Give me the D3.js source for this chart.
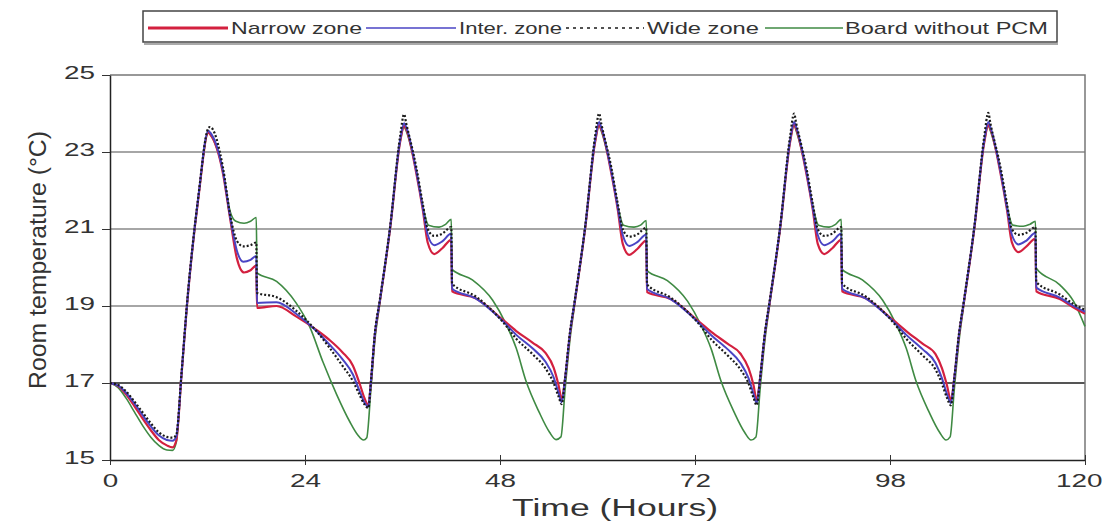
<!DOCTYPE html>
<html lang="en">
  <head>
    <meta charset="utf-8"/>
    <script src="https://d3js.org/d3.v7.min.js"></script>
    <title>Room temperature</title>
  </head>
  <body>
    <div id="chart_div">
      <svg id="chart"></svg>
    </div>
  </body>
</html>

<style>
  body { margin: 0; background: #fff; }
  text { font-family: "Liberation Sans", Arial, sans-serif; fill: #333; }
</style>

<script>
  const width = 1103;
  const height = 525;
  const margin = {top: 75, right: 18, bottom: 65, left: 110};

  // [hour, °C]
  const narrowZone = [
    [0,17.0],[1,16.92],[2,16.7],[3,16.4],[4,16.08],[5,15.78],[6,15.52],[7,15.38],[7.7,15.33],[8.15,15.5],
    [8.8,17.2],[9.45,18.95],[10.9,21.85],[12.1,23.5],[12.35,23.45],
    [13.9,22.45],[14.8,21.25],[15.6,20.25],[16.5,19.87],[17.3,19.93],[18.0,20.05],
    [18.1,18.95],[20.5,19.0],[22.9,18.73],[25.4,18.38],[27.0,18.12],[28.6,17.8],[29.9,17.45],[30.7,17.0],[31.3,16.62],[31.8,16.42],
    [32.1,17.0],[32.6,18.25],[33.2,19.1],[34.5,21.05],[35.7,23.25],[36.2,23.68],[36.45,23.6],
    [37.7,22.45],[38.5,21.5],[39.1,20.65],[39.9,20.35],[40.9,20.5],[42.0,20.72],
    [42.1,19.38],[45.0,19.2],[48.3,18.65],[50.0,18.35],[52.0,18.05],[53.6,17.78],[54.6,17.4],[55.2,16.95],[55.6,16.58],
    [56.0,17.1],[56.6,18.25],[57.2,19.1],[58.5,21.05],[59.7,23.25],[60.2,23.7],[60.45,23.6],
    [61.7,22.45],[62.5,21.5],[63.1,20.62],[63.9,20.33],[64.9,20.48],[66.0,20.7],
    [66.1,19.36],[69.0,19.18],[72.3,18.63],[74.0,18.33],[76.0,18.02],[77.6,17.76],[78.6,17.38],[79.2,16.95],[79.6,16.55],
    [80.0,17.1],[80.6,18.25],[81.2,19.1],[82.5,21.05],[83.7,23.25],[84.2,23.72],[84.45,23.6],
    [85.7,22.45],[86.5,21.5],[87.1,20.62],[87.9,20.35],[88.9,20.5],[90.0,20.72],
    [90.1,19.38],[93.0,19.2],[96.3,18.65],[98.0,18.35],[100.0,18.02],[101.6,17.75],[102.4,17.38],[103.0,16.95],[103.5,16.55],
    [103.9,17.1],[104.5,18.25],[105.1,19.1],[106.4,21.05],[107.6,23.25],[108.1,23.7],[108.35,23.6],
    [109.6,22.45],[110.4,21.5],[111.0,20.65],[111.8,20.4],[112.8,20.55],[113.9,20.75],
    [114.0,19.38],[116.9,19.18],[118.6,18.96],[120,18.8]
  ];

  const interZone = [
    [0,17.0],[1,16.93],[2,16.74],[3,16.47],[4,16.17],[5,15.88],[6,15.64],[7,15.52],[7.7,15.5],[8.15,15.6],
    [8.8,17.22],[9.45,18.97],[10.9,21.88],[12.1,23.55],[12.35,23.5],
    [13.9,22.5],[14.8,21.3],[15.6,20.45],[16.4,20.15],[17.3,20.2],[18.0,20.3],
    [18.1,19.08],[20.5,19.1],[22.9,18.8],[25.4,18.35],[27.0,18.0],[28.6,17.62],[29.9,17.22],[30.7,16.8],[31.3,16.5],[31.8,16.38],
    [32.1,17.0],[32.6,18.27],[33.2,19.12],[34.5,21.08],[35.7,23.3],[36.2,23.75],[36.45,23.65],
    [37.7,22.5],[38.5,21.55],[39.1,20.85],[39.9,20.58],[40.9,20.68],[42.0,20.88],
    [42.1,19.45],[45.0,19.2],[48.3,18.62],[50.0,18.25],[52.0,17.9],[53.6,17.55],[54.6,17.15],[55.2,16.75],[55.6,16.5],
    [56.0,17.1],[56.6,18.27],[57.2,19.12],[58.5,21.08],[59.7,23.3],[60.2,23.78],[60.45,23.65],
    [61.7,22.5],[62.5,21.55],[63.1,20.85],[63.9,20.56],[64.9,20.66],[66.0,20.86],
    [66.1,19.44],[69.0,19.18],[72.3,18.6],[74.0,18.24],[76.0,17.88],[77.6,17.52],[78.6,17.12],[79.2,16.72],[79.6,16.48],
    [80.0,17.1],[80.6,18.27],[81.2,19.12],[82.5,21.08],[83.7,23.3],[84.2,23.78],[84.45,23.65],
    [85.7,22.5],[86.5,21.55],[87.1,20.85],[87.9,20.58],[88.9,20.68],[90.0,20.88],
    [90.1,19.45],[93.0,19.2],[96.3,18.62],[98.0,18.25],[100.0,17.88],[101.6,17.52],[102.4,17.12],[103.0,16.72],[103.5,16.48],
    [103.9,17.1],[104.5,18.27],[105.1,19.12],[106.4,21.08],[107.6,23.3],[108.1,23.78],[108.35,23.65],
    [109.6,22.5],[110.4,21.55],[111.0,20.85],[111.8,20.6],[112.8,20.7],[113.9,20.9],
    [114.0,19.48],[116.9,19.22],[118.6,19.0],[120,18.85]
  ];

  const wideZone = [
    [0,17.0],[1,16.95],[2,16.78],[3,16.52],[4,16.24],[5,15.96],[6,15.72],[7,15.6],[7.7,15.58],[8.15,15.65],
    [8.8,17.25],[9.45,19.0],[10.9,21.9],[12.1,23.62],[12.3,23.65],
    [13.9,22.6],[14.8,21.35],[15.6,20.7],[16.4,20.55],[17.3,20.58],[18.0,20.65],
    [18.1,19.34],[20.5,19.23],[22.9,18.88],[25.4,18.35],[27.0,17.92],[28.6,17.45],[29.9,17.05],[30.7,16.7],[31.3,16.45],[31.8,16.35],
    [32.1,17.0],[32.6,18.3],[33.2,19.15],[34.5,21.1],[35.7,23.4],[36.2,23.98],[36.45,23.75],
    [37.7,22.6],[38.5,21.65],[39.1,21.0],[39.9,20.82],[40.9,20.88],[42.0,21.05],
    [42.1,19.58],[45.0,19.25],[48.3,18.6],[50.0,18.15],[52.0,17.75],[53.6,17.38],[54.6,17.0],[55.2,16.65],[55.6,16.45],
    [56.0,17.1],[56.6,18.3],[57.2,19.15],[58.5,21.1],[59.7,23.4],[60.2,24.0],[60.45,23.75],
    [61.7,22.6],[62.5,21.65],[63.1,21.0],[63.9,20.8],[64.9,20.86],[66.0,21.03],
    [66.1,19.56],[69.0,19.22],[72.3,18.58],[74.0,18.13],[76.0,17.72],[77.6,17.35],[78.6,16.98],[79.2,16.62],[79.6,16.42],
    [80.0,17.1],[80.6,18.3],[81.2,19.15],[82.5,21.1],[83.7,23.4],[84.2,24.0],[84.45,23.75],
    [85.7,22.6],[86.5,21.65],[87.1,21.0],[87.9,20.82],[88.9,20.88],[90.0,21.05],
    [90.1,19.58],[93.0,19.25],[96.3,18.6],[98.0,18.15],[100.0,17.72],[101.6,17.35],[102.4,16.98],[103.0,16.62],[103.5,16.42],
    [103.9,17.1],[104.5,18.3],[105.1,19.15],[106.4,21.1],[107.6,23.4],[108.1,24.02],[108.35,23.75],
    [109.6,22.6],[110.4,21.65],[111.0,21.0],[111.8,20.85],[112.8,20.9],[113.9,21.05],
    [114.0,19.62],[116.9,19.3],[118.6,19.05],[120,18.9]
  ];

  const boardNoPCM = [
    [0,17.0],[1,16.88],[2,16.6],[3,16.25],[4,15.9],[5,15.6],[6,15.38],[7,15.26],[7.7,15.25],[8.15,15.45],
    [8.8,17.2],[9.45,18.95],[10.9,21.85],[12.1,23.5],[12.35,23.45],
    [13.9,22.5],[14.8,21.45],[15.5,21.2],[16.5,21.15],[17.3,21.2],[18.0,21.3],
    [18.1,19.86],[20.5,19.64],[22.9,19.08],[24.6,18.45],[26.2,17.55],[27.9,16.7],[29.5,16.0],[30.5,15.65],[31.2,15.52],[31.6,15.58],
    [32.1,16.8],[32.6,18.1],[33.2,19.05],[34.5,21.05],[35.7,23.25],[36.2,23.65],[36.45,23.55],
    [37.7,22.5],[38.5,21.6],[39.2,21.1],[40.5,21.05],[41.3,21.12],[42.0,21.25],
    [42.1,19.95],[44.6,19.68],[47.1,19.15],[48.7,18.55],[50.0,17.9],[51.2,17.05],[52.8,16.25],[54.1,15.72],[54.9,15.53],[55.5,15.6],
    [56.0,16.8],[56.6,18.1],[57.2,19.05],[58.5,21.05],[59.7,23.25],[60.2,23.68],[60.45,23.55],
    [61.7,22.5],[62.5,21.6],[63.2,21.1],[64.5,21.05],[65.3,21.1],[66.0,21.22],
    [66.1,19.92],[68.6,19.66],[71.1,19.12],[72.7,18.52],[74.0,17.88],[75.2,17.05],[76.8,16.25],[78.1,15.72],[78.9,15.52],[79.5,15.6],
    [80.0,16.8],[80.6,18.1],[81.2,19.05],[82.5,21.05],[83.7,23.25],[84.2,23.7],[84.45,23.55],
    [85.7,22.5],[86.5,21.6],[87.2,21.1],[88.5,21.05],[89.3,21.12],[90.0,21.25],
    [90.1,19.95],[92.6,19.68],[95.1,19.15],[96.7,18.55],[98.0,17.9],[99.2,17.05],[100.8,16.25],[102.1,15.72],[102.9,15.52],[103.4,15.6],
    [103.9,16.8],[104.5,18.1],[105.1,19.05],[106.4,21.05],[107.6,23.25],[108.1,23.68],[108.35,23.55],
    [109.6,22.5],[110.4,21.6],[111.1,21.1],[112.4,21.07],[113.2,21.12],[113.9,21.2],
    [114.0,19.98],[116.9,19.55],[118.6,19.12],[120,18.47]
  ];

  const xTicks = [0, 24, 48, 72, 96, 120];
  const xTickLabels = ["0", "24", "48", "72", "98", "120"];
  const yTicks = [15, 17, 19, 21, 23, 25];
  const gridValues = [17, 19, 21, 23];

  const series = [
    {name: "Board without PCM", data: boardNoPCM, color: "#3f8a43", width: 1.6, dash: null},
    {name: "Narrow zone", data: narrowZone, color: "#d3203f", width: 2.2, dash: null},
    {name: "Inter. zone", data: interZone, color: "#4a45c4", width: 2, dash: null},
    {name: "Wide zone", data: wideZone, color: "#1a1a1a", width: 2.2, dash: "2,2"}
  ];

  const svg = d3.select("#chart")
    .attr("width", width)
    .attr("height", height);

  const xScale = d3.scaleLinear()
    .domain([0, 120])
    .range([margin.left, width - margin.right]);

  const yScale = d3.scaleLinear()
    .domain([15, 25])
    .range([height - margin.bottom, margin.top]);

  // grid
  svg.append("g")
    .selectAll("line")
    .data(gridValues)
    .enter()
    .append("line")
      .attr("x1", xScale(0))
      .attr("x2", xScale(120))
      .attr("y1", (d) => yScale(d))
      .attr("y2", (d) => yScale(d))
      .attr("stroke", (d) => d === 17 ? "#555" : "#888")
      .attr("stroke-width", (d) => d === 17 ? 2 : 1.5);

  // frame top / right
  svg.append("path")
    .attr("d", "M" + xScale(0) + "," + yScale(25) + "H" + xScale(120) + "V" + yScale(15))
    .attr("fill", "none")
    .attr("stroke", "#777")
    .attr("stroke-width", 1.5);

  // tick labels in the figure are wide and flat, so stretch them
  const digitWidth = 15.5;

  const xAxis = svg.append("g")
    .attr("transform", "translate(0," + yScale(15) + ")")
    .call(d3.axisBottom(xScale).tickValues(xTicks)
      .tickFormat((d, i) => xTickLabels[i]).tickSizeInner(6).tickSizeOuter(0).tickPadding(8));
  xAxis.select(".domain").attr("stroke", "#222").attr("stroke-width", 1.5);
  xAxis.selectAll(".tick line").attr("y1", -5).attr("y2", 5).attr("stroke", "#333");
  xAxis.selectAll("text")
    .style("font-size", "19px")
    .style("font-family", "'Liberation Sans', Arial, sans-serif")
    .attr("fill", "#333")
    .attr("textLength", (d, i) => xTickLabels[i].length * digitWidth)
    .attr("lengthAdjust", "spacingAndGlyphs")
    .attr("text-anchor", (d) => d === 120 ? "end" : "middle")
    .attr("x", (d) => d === 120 ? 17 : 0);

  const yAxis = svg.append("g")
    .attr("transform", "translate(" + xScale(0) + ",0)")
    .call(d3.axisLeft(yScale).tickValues(yTicks).tickSizeInner(8).tickSizeOuter(0).tickPadding(7));
  yAxis.select(".domain").attr("stroke", "#222").attr("stroke-width", 1.5);
  yAxis.selectAll(".tick line").attr("stroke", "#333");
  yAxis.selectAll("text")
    .style("font-size", "19px")
    .style("font-family", "'Liberation Sans', Arial, sans-serif")
    .attr("fill", "#333")
    .attr("textLength", (d) => String(d).length * digitWidth)
    .attr("lengthAdjust", "spacingAndGlyphs")
    .attr("dy", "0.2em");

  const line = d3.line()
    .x((d) => xScale(d[0]))
    .y((d) => yScale(d[1]))
    .curve(d3.curveMonotoneX);

  svg.append("g")
    .selectAll("path")
    .data(series)
    .enter()
    .append("path")
      .attr("d", (d) => line(d.data))
      .attr("fill", "none")
      .attr("stroke", (d) => d.color)
      .attr("stroke-width", (d) => d.width)
      .attr("stroke-dasharray", (d) => d.dash)
      .attr("stroke-linejoin", "round");

  // axis titles
  svg.append("text")
    .attr("x", 615)
    .attr("y", 516)
    .attr("text-anchor", "middle")
    .attr("textLength", 206)
    .attr("lengthAdjust", "spacingAndGlyphs")
    .style("font-size", "23px")
    .text("Time (Hours)");

  svg.append("text")
    .attr("transform", "translate(46,260) rotate(-90)")
    .attr("text-anchor", "middle")
    .attr("textLength", 258)
    .attr("lengthAdjust", "spacingAndGlyphs")
    .style("font-size", "23px")
    .text("Room temperature (°C)");

  // legend
  const legend = svg.append("g");
  legend.append("rect")
    .attr("x", 143).attr("y", 11)
    .attr("width", 914).attr("height", 31)
    .attr("fill", "#fff")
    .attr("stroke", "#444")
    .attr("stroke-width", 1.5);
  legend.append("line")
    .attr("x1", 144).attr("x2", 1058)
    .attr("y1", 44).attr("y2", 44)
    .attr("stroke", "#aaa").attr("stroke-width", 2);

  const legendItems = [
    {s: series[1], x1: 148, x2: 228, tx: 231, tw: 131, lw: 3},
    {s: series[2], x1: 366, x2: 456, tx: 459, tw: 103, lw: 1.6},
    {s: series[3], x1: 566, x2: 644, tx: 647, tw: 112, lw: 1.6},
    {s: series[0], x1: 765, x2: 843, tx: 845, tw: 203, lw: 1.6}
  ];

  legendItems.forEach((it) => {
    legend.append("line")
      .attr("x1", it.x1).attr("x2", it.x2)
      .attr("y1", 28).attr("y2", 28)
      .attr("stroke", it.s.color)
      .attr("stroke-width", it.lw)
      .attr("stroke-dasharray", it.s.dash ? "3,4" : null);
    legend.append("text")
      .attr("x", it.tx)
      .attr("y", 34)
      .attr("textLength", it.tw)
      .attr("lengthAdjust", "spacingAndGlyphs")
      .style("font-size", "17px")
      .text(it.s.name);
  });
</script>
